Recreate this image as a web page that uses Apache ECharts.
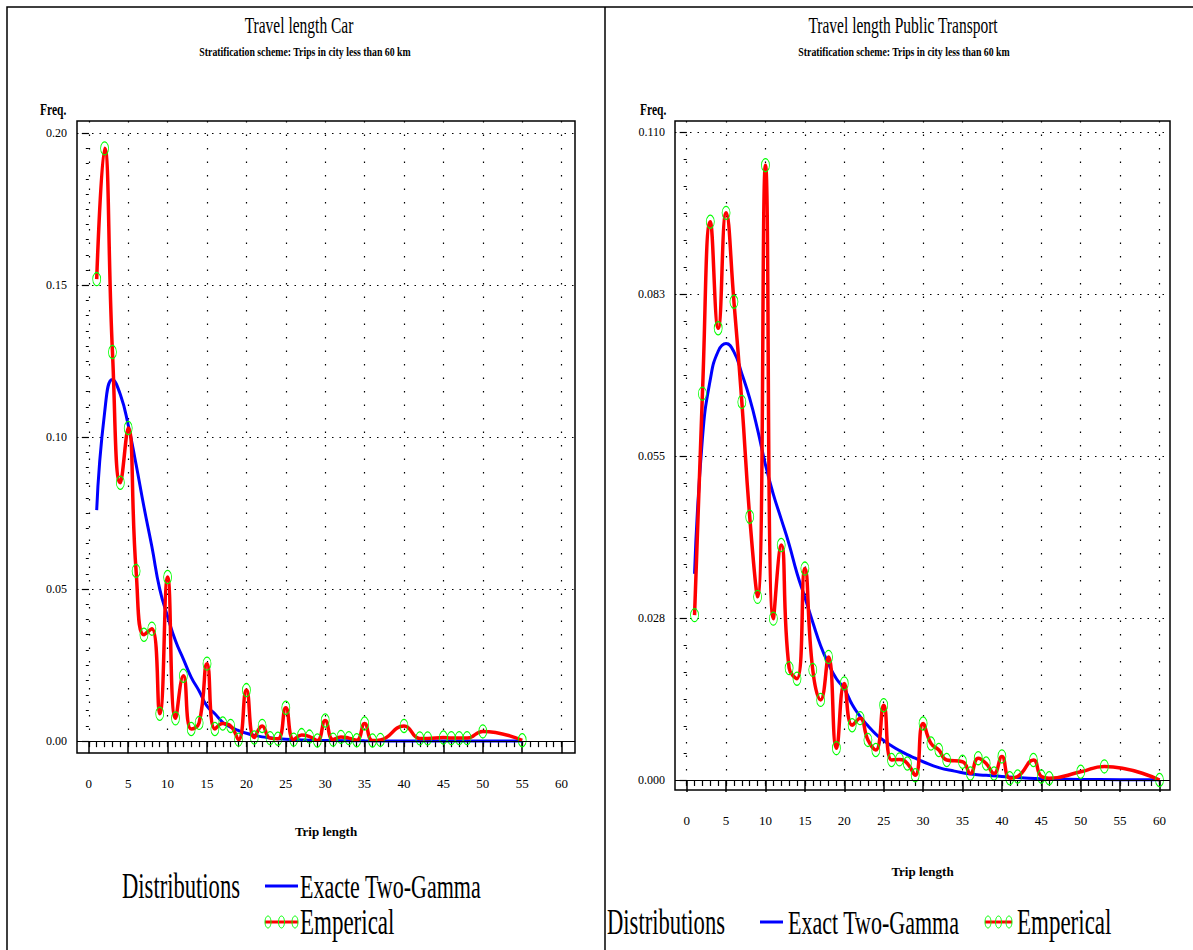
<!DOCTYPE html>
<html>
<head>
<meta charset="utf-8">
<title>Travel length</title>
<script src="https://cdn.jsdelivr.net/npm/echarts@6/dist/echarts.min.js"></script>
<style>
html, body { margin: 0; padding: 0; background: #fff; }
#main { width: 1193px; height: 950px; }
</style>
</head>
<body>
<div id="main"></div>
<script>
// Car - empirical points (green circles)
var carEmpX = [1, 2, 3, 4, 5, 6, 7, 8, 9, 10, 11, 12, 13, 14, 15, 16, 17, 18, 19, 20,
  21, 22, 23, 24, 25, 26, 27, 28, 29, 30, 31, 32, 33, 34, 35, 36, 37, 40, 42, 43,
  45, 46, 47, 48, 50, 55];
var carEmpY = [0.152, 0.195, 0.128, 0.085, 0.103, 0.056, 0.035, 0.037, 0.009, 0.054,
  0.0075, 0.0215, 0.004, 0.006, 0.0255, 0.004, 0.0058, 0.005, 0.0005, 0.0168,
  0.0012, 0.005, 0.001, 0.0008, 0.011, 0.0005, 0.002, 0.0015, 0.0002, 0.0068,
  0.0005, 0.0014, 0.001, 0.0003, 0.0058, 0.0002, 0.0004, 0.005, 0.0009, 0.0009,
  0.0012, 0.001, 0.001, 0.001, 0.0032, 0.0003];
// Car - two-gamma fit
var carFitX = [1, 2, 3, 4, 5, 6, 7, 8, 9, 10, 11, 12, 13, 14, 15, 16, 17, 18, 19, 20,
  21, 22, 23, 24, 25, 26, 27, 28, 29, 30, 35, 40, 45, 50, 55];
var carFitY = [0.076, 0.108, 0.119, 0.114, 0.104, 0.091, 0.077, 0.064, 0.050, 0.041,
  0.033, 0.027, 0.021, 0.0165, 0.0115, 0.009, 0.0062, 0.0046, 0.0035, 0.0026,
  0.0019, 0.0014, 0.0011, 0.0008, 0.0006, 0.0005, 0.0004, 0.0003, 0.00025, 0.0002,
  0.0001, 0.00006, 0.00004, 0.00002, 0.00001];

// Public transport - empirical points
var ptEmpX = [1, 2, 3, 4, 5, 6, 7, 8, 9, 10, 11, 12, 13, 14, 15, 16, 17, 18, 19, 20,
  21, 22, 23, 24, 25, 26, 27, 28, 29, 30, 31, 32, 33, 35, 36, 37, 38, 39, 40, 41,
  42, 44, 45, 46, 50, 53, 60];
var ptEmpY = [0.028, 0.0656, 0.0948, 0.0767, 0.0963, 0.0812, 0.0642, 0.0447, 0.0311, 0.1044,
  0.0274, 0.0399, 0.019, 0.0172, 0.0359, 0.0187, 0.0136, 0.0209, 0.0054, 0.0164,
  0.0093, 0.0105, 0.0068, 0.0051, 0.0127, 0.0034, 0.0035, 0.0028, 0.0008, 0.0096,
  0.0062, 0.0051, 0.0034, 0.0031, 0.0011, 0.0037, 0.0028, 0.0011, 0.004, 0.0003,
  0.0006, 0.0034, 0.0006, 0.0003, 0.0014, 0.0023, 0];
// Public transport - two-gamma fit
var ptFitX = [1, 2, 3, 4, 5, 6, 7, 8, 9, 10, 11, 12, 13, 14, 15, 16, 17, 18, 19, 20,
  21, 22, 23, 24, 25, 26, 27, 28, 29, 30, 32, 34, 36, 38, 40, 45, 50, 55, 60];
var ptFitY = [0.035, 0.058, 0.068, 0.0728, 0.0741, 0.0727, 0.069, 0.0648, 0.0595, 0.0535,
  0.0485, 0.0443, 0.040, 0.0351, 0.031, 0.0268, 0.0228, 0.0197, 0.0172, 0.0155,
  0.0128, 0.0108, 0.0092, 0.0078, 0.0067, 0.0058, 0.005, 0.0043, 0.0037, 0.0031,
  0.0021, 0.0015, 0.001, 0.0008, 0.0006, 0.0002, 0.0001, 0.00005, 0.00002];

// tick labels
var xTicks = [0, 5, 10, 15, 20, 25, 30, 35, 40, 45, 50, 55, 60];
var carYTicks = [0, 0.05, 0.10, 0.15, 0.20];
var ptYTicks = [0, 0.0275, 0.055, 0.0825, 0.11];
var ptYLabels = ['0.000', '0.028', '0.055', '0.083', '0.110'];

var FONT = "'Liberation Serif', 'Times New Roman', serif";

function zip(xs, ys) {
  return xs.map(function (x, i) { return [x, ys[i]]; });
}
function steps(from, to, step) {
  var out = [];
  for (var v = from; v <= to + step / 10; v += step) out.push(+v.toFixed(6));
  return out;
}

var dotV = { color: '#000', type: [1.5, 12], width: 1.2 };
var dotH = { color: '#000', type: [1.5, 6], width: 1.2 };

function majorX(grid, min, max, gap) {
  return {
    type: 'value', gridIndex: grid, position: 'bottom', min: min, max: max,
    axisLine: { show: false },
    axisTick: { customValues: xTicks, length: 12, lineStyle: { color: '#000', width: 1.5 } },
    axisLabel: { customValues: xTicks, margin: 24, fontSize: 13, color: '#000', fontFamily: FONT },
    splitLine: { show: true, lineStyle: dotV },
    name: 'Trip length', nameLocation: 'middle', nameGap: gap,
    nameTextStyle: { fontSize: 13, fontWeight: 'bold', color: '#000', fontFamily: FONT }
  };
}
function minorX(grid, min, max) {
  return {
    type: 'value', gridIndex: grid, position: 'bottom', min: min, max: max,
    axisLine: { show: false },
    axisTick: { customValues: steps(0, 60, 1), length: 6, lineStyle: { color: '#000', width: 1.2 } },
    axisLabel: { show: false },
    splitLine: { show: false }
  };
}
function majorY(grid, min, max, ticks, fmt) {
  return {
    type: 'value', gridIndex: grid, position: 'left', min: min, max: max,
    axisLine: { show: false },
    axisTick: { customValues: ticks, length: 7, lineStyle: { color: '#000', width: 1.2 } },
    axisLabel: { customValues: ticks, margin: 10, fontSize: 12, color: '#000', fontFamily: FONT, formatter: fmt },
    splitLine: { show: true, lineStyle: dotH }
  };
}
function minorY(grid, min, max, ticks) {
  return {
    type: 'value', gridIndex: grid, position: 'left', min: min, max: max,
    axisLine: { show: false },
    axisTick: { customValues: ticks, length: 3, lineStyle: { color: '#000', width: 1 } },
    axisLabel: { show: false },
    splitLine: { show: false }
  };
}

function fitSeries(name, xi, yi, data) {
  return {
    name: name, type: 'line', xAxisIndex: xi, yAxisIndex: yi, data: data,
    smooth: true, symbol: 'none', color: '#0000ff',
    lineStyle: { color: '#0000ff', width: 3 }, z: 3
  };
}
function empSeries(xi, yi, data) {
  return {
    name: 'Emperical', type: 'line', xAxisIndex: xi, yAxisIndex: yi, data: data,
    smooth: 0.5, symbol: 'circle', symbolSize: [8, 13], color: '#ff0000',
    lineStyle: { color: '#ff0000', width: 3.5 },
    itemStyle: { color: 'rgba(255,255,255,0)', borderColor: '#00ff00', borderWidth: 1 },
    z: 4,
    markLine: {
      silent: true, symbol: ['none', 'none'], label: { show: false },
      lineStyle: { color: '#000', type: 'solid', width: 1.2 },
      data: [{ yAxis: 0 }]
    }
  };
}

// tall, narrow text like the SAS device font
function label(txt, x, y, size, opts) {
  opts = opts || {};
  return {
    type: 'text', x: x, y: y, scaleY: opts.sy || 1.5, silent: true,
    style: {
      text: txt, fontSize: size, fontFamily: FONT, fill: '#000',
      fontWeight: opts.bold ? 'bold' : 'normal',
      align: opts.align || 'left', verticalAlign: 'middle'
    }
  };
}
function fitIcon(x1, x2, y) {
  return { type: 'line', silent: true, shape: { x1: x1, y1: y, x2: x2, y2: y },
    style: { stroke: '#0000ff', lineWidth: 3 } };
}
function empIcon(x1, x2, y) {
  var els = [{ type: 'line', silent: true, shape: { x1: x1, y1: y, x2: x2, y2: y },
    style: { stroke: '#ff0000', lineWidth: 3 } }];
  [x1 + 3, (x1 + x2) / 2, x2 - 3].forEach(function (cx) {
    els.push({ type: 'ellipse', silent: true, shape: { cx: cx, cy: y, rx: 3, ry: 6 },
      style: { fill: 'none', stroke: '#00ff00', lineWidth: 1 } });
  });
  return els;
}

var chart = echarts.init(document.getElementById('main'), null, { renderer: 'svg' });
chart.setOption({
  backgroundColor: '#fff',
  animation: false,
  grid: [
    { left: 77, top: 121, width: 498, height: 632, show: true, borderColor: '#000', borderWidth: 1.5, backgroundColor: 'transparent' },
    { left: 675, top: 121, width: 495, height: 669, show: true, borderColor: '#000', borderWidth: 1.5, backgroundColor: 'transparent' }
  ],
  xAxis: [
    majorX(0, -1.5, 61.7, 72),
    minorX(0, -1.5, 61.7),
    majorX(1, -1.48, 61.33, 75),
    minorX(1, -1.48, 61.33)
  ],
  yAxis: [
    majorY(0, -0.0039, 0.204, carYTicks, function (v) { return v.toFixed(2); }),
    minorY(0, -0.0039, 0.204, steps(0, 0.2, 0.005)),
    majorY(1, -0.0017, 0.1119, ptYTicks, function (v) {
      var i = ptYTicks.indexOf(v);
      return i >= 0 ? ptYLabels[i] : v.toFixed(3);
    }),
    minorY(1, -0.0017, 0.1119, steps(0, 0.11, 0.0275 / 6))
  ],
  graphic: [
    { type: 'rect', shape: { x: 7, y: 7, width: 1300, height: 1100 }, silent: true,
      style: { fill: 'none', stroke: '#000', lineWidth: 1.5 } },
    { type: 'line', shape: { x1: 605, y1: 7, x2: 605, y2: 960 }, silent: true,
      style: { stroke: '#000', lineWidth: 1.5 } },
    // titles
    label('Travel length Car', 299, 25, 15.5, { align: 'center', sy: 1.45 }),
    label('Stratification scheme: Trips in city less than 60 km', 305, 52, 9.8, { align: 'center', bold: true, sy: 1.3 }),
    label('Travel length Public Transport', 903, 25, 15.5, { align: 'center', sy: 1.45 }),
    label('Stratification scheme: Trips in city less than 60 km', 904, 52, 9.8, { align: 'center', bold: true, sy: 1.3 }),
    label('Freq.', 40, 110, 11.5, { bold: true, sy: 1.4 }),
    label('Freq.', 640, 110, 11.5, { bold: true, sy: 1.4 }),
    // legend, left panel
    label('Distributions', 122, 886, 22.6, { sy: 1.55 }),
    fitIcon(265, 298, 886),
    label('Exacte Two-Gamma', 300, 886, 22, { sy: 1.55 }),
    label('Emperical', 300, 922, 23, { sy: 1.55 }),
    // legend, right panel
    label('Distributions', 607, 922, 22.6, { sy: 1.55 }),
    fitIcon(760, 783, 922),
    label('Exact Two-Gamma', 788, 922, 22, { sy: 1.55 }),
    label('Emperical', 1017, 922, 23, { sy: 1.55 })
  ].concat(empIcon(265, 298, 922), empIcon(985, 1012, 922)),
  series: [
    fitSeries('Exacte Two-Gamma', 0, 0, zip(carFitX, carFitY)),
    empSeries(0, 0, zip(carEmpX, carEmpY)),
    fitSeries('Exact Two-Gamma', 2, 2, zip(ptFitX, ptFitY)),
    empSeries(2, 2, zip(ptEmpX, ptEmpY))
  ]
});
</script>
</body>
</html>
